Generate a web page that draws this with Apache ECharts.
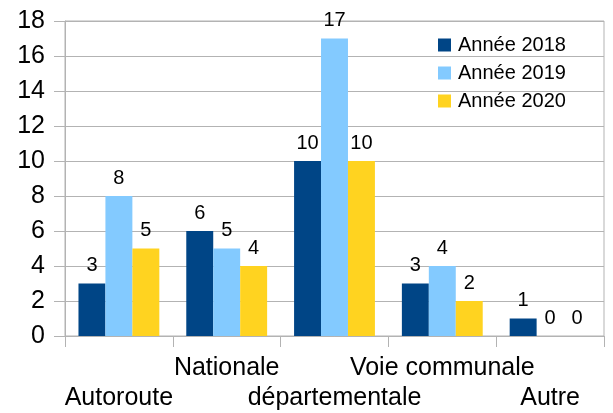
<!DOCTYPE html>
<html style="height: 100%">
<head>
<meta charset="utf-8">
<script src="https://cdn.jsdelivr.net/npm/echarts@6/dist/echarts.min.js"></script>
</head>
<body style="height: 100%; margin: 0">
<div id="container" style="width: 613px; height: 413px"></div>
<script type="text/javascript">
var categories = ['Autoroute', 'Nationale', 'départementale', 'Voie communale', 'Autre'];
var years = ['Année 2018', 'Année 2019', 'Année 2020'];
var y2018 = [3, 6, 10, 3, 1];
var y2019 = [8, 5, 17, 4, 0];
var y2020 = [5, 4, 10, 2, 0];
var colors = ['#004586', '#83caff', '#ffd320'];

var myChart = echarts.init(document.getElementById('container'));
var font = 'Liberation Sans';

function bar(name, data, color) {
    return {
        name: name,
        type: 'bar',
        data: data,
        barGap: '0%',
        barCategoryGap: '25%',
        itemStyle: { color: color },
        label: {
            show: true,
            position: 'top',
            distance: 8,
            color: '#000',
            fontFamily: font,
            fontSize: 20
        }
    };
}

var option = {
    animation: false,
    grid: {
        left: 65, right: 9, top: 21, bottom: 77,
        show: true, borderColor: '#b3b3b3', borderWidth: 1
    },
    legend: {
        data: years,
        orient: 'vertical',
        left: 433, top: 28,
        itemWidth: 13, itemHeight: 13, itemGap: 4,
        icon: 'rect',
        textStyle: { color: '#000', fontFamily: font, fontSize: 20, lineHeight: 24, padding: [0, 0, 0, 2] }
    },
    xAxis: {
        type: 'category',
        data: categories,
        axisLine: { lineStyle: { color: '#b3b3b3' } },
        axisTick: { show: true, length: 11, lineStyle: { color: '#b3b3b3' } },
        axisLabel: {
            interval: 0,
            margin: 17,
            color: '#000',
            fontFamily: font,
            fontSize: 25,
            lineHeight: 30,
            formatter: function (v, i) { return i % 2 === 0 ? '\n' + v : v; }
        }
    },
    yAxis: {
        type: 'value',
        min: 0, max: 18, interval: 2,
        axisLine: { show: true, lineStyle: { color: '#b3b3b3' } },
        axisTick: { show: true, length: 11, lineStyle: { color: '#b3b3b3' } },
        splitLine: { lineStyle: { color: '#b3b3b3' } },
        axisLabel: { margin: 20, color: '#000', fontFamily: font, fontSize: 25 }
    },
    series: [
        bar(years[0], y2018, colors[0]),
        bar(years[1], y2019, colors[1]),
        bar(years[2], y2020, colors[2])
    ]
};
myChart.setOption(option);
</script>
</body>
</html>
